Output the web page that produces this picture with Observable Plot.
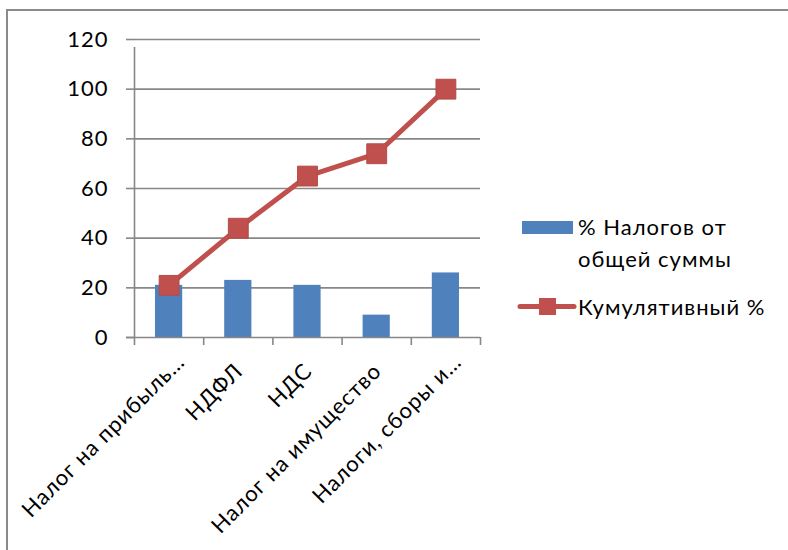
<!DOCTYPE html>
<html>
<head>
<meta charset="utf-8">
<script src="https://cdn.jsdelivr.net/npm/d3@7"></script>
<script src="https://cdn.jsdelivr.net/npm/@observablehq/plot@0.6"></script>
<style>
  html, body { margin: 0; padding: 0; background: #fff; }
  #wrap { position: relative; width: 788px; height: 550px; overflow: hidden; font-family: Lato, "Liberation Sans", sans-serif; }
  #frame { position: absolute; left: 6px; top: 9px; width: 800px; height: 560px; border-left: 2px solid #8a8a8a; border-top: 2px solid #8a8a8a; box-sizing: border-box; }
  #chart { position: absolute; left: 0; top: 0; }
  #legend { position: absolute; left: 0; top: 0; }
  svg text { letter-spacing: 1px; }
</style>
</head>
<body>
<div id="wrap">
  <div id="frame"></div>
  <div id="chart"></div>
  <div id="legend"></div>
</div>
<script>
const categories = ["Налог на прибыль…", "НДФЛ", "НДС", "Налог на имущество", "Налоги, сборы и…"];
const shares = [21, 23, 21, 9, 26];
const cumulative = [21, 44, 65, 74, 100];
const yTicks = [0, 20, 40, 60, 80, 100, 120];
const seriesNames = ["% Налогов от общей суммы", "Кумулятивный %"];

const blue = "#4f81bd";
const red = "#c0504d";
const gridColor = "#878787";
const font = "Lato, 'Liberation Sans', sans-serif";
const fs = 22;

const data = categories.map((c, i) => ({ i, c, share: shares[i], cum: cumulative[i] }));
const idx = d3.range(categories.length);
const centers = idx.map(i => i + 0.5);
const plainCenters = centers.filter(v => !categories[Math.floor(v)].endsWith("…"));
const ellipsisCenters = centers.filter(v => categories[Math.floor(v)].endsWith("…"));

const chart = Plot.plot({
  width: 788,
  height: 550,
  marginLeft: 134,
  marginRight: 308,
  marginTop: 39,
  marginBottom: 213,
  style: { fontFamily: font, fontSize: fs + "px", color: "#000", background: "transparent" },
  x: { type: "linear", domain: [0, categories.length] },
  y: { domain: [0, 120] },
  marks: [
    Plot.gridY(yTicks.filter(t => t > 0), { stroke: gridColor, strokeOpacity: 1, strokeWidth: 1.6 }),
    Plot.axisY(yTicks, { tickSize: 8, tickPadding: 18, stroke: gridColor, strokeWidth: 1.6, fontSize: fs, fill: "#000", label: null }),
    Plot.axisX(d3.range(categories.length + 1), { tickSize: 8, tickFormat: () => "", stroke: gridColor, strokeWidth: 1.6, label: null }),
    Plot.axisX(plainCenters, { tickSize: 0, tickPadding: 30, dx: 1, tickRotate: -45, fontSize: fs, fill: "#000", label: null,
      tickFormat: v => categories[Math.floor(v)] }),
    Plot.axisX(ellipsisCenters, { tickSize: 0, tickPadding: 27, dx: 12, dy: -6, tickRotate: -45, fontSize: fs, fill: "#000", label: null,
      tickFormat: v => categories[Math.floor(v)] }),
    Plot.rectY(data, { x1: d => d.i, x2: d => d.i + 1, y1: 0, y2: "share", fill: blue, insetLeft: 21, insetRight: 21 }),
    Plot.ruleX([0], { y1: 0, y2: 120, stroke: gridColor, strokeWidth: 1.6, insetBottom: -8 }),
    Plot.ruleY([0], { x1: 0, x2: categories.length, stroke: gridColor, strokeWidth: 1.6, insetLeft: -8 }),
    Plot.line(data, { x: d => d.i + 0.5, y: "cum", stroke: red, strokeWidth: 5 }),
    Plot.dot(data, { x: d => d.i + 0.5, y: "cum", symbol: "square", r: 11.2, fill: red, stroke: "#b64a47", strokeWidth: 1 })
  ]
});
document.getElementById("chart").appendChild(chart);

// Legend
const ns = "http://www.w3.org/2000/svg";
const lg = d3.create("svg").attr("width", 788).attr("height", 550).attr("xmlns", ns)
  .style("font-family", font).style("font-size", fs + "px");
lg.append("rect").attr("x", 522).attr("y", 221).attr("width", 51).attr("height", 13).attr("fill", blue);
lg.append("text").attr("x", 578).attr("y", 235).text("% Налогов от");
lg.append("text").attr("x", 578).attr("y", 267).text("общей суммы");
lg.append("line").attr("x1", 520).attr("x2", 574).attr("y1", 306.5).attr("y2", 306.5)
  .attr("stroke", red).attr("stroke-width", 5).attr("stroke-linecap", "round");
lg.append("rect").attr("x", 539).attr("y", 298).attr("width", 17).attr("height", 17).attr("fill", red);
lg.append("text").attr("x", 578).attr("y", 315).text(seriesNames[1]);
document.getElementById("legend").appendChild(lg.node());
</script>
</body>
</html>
